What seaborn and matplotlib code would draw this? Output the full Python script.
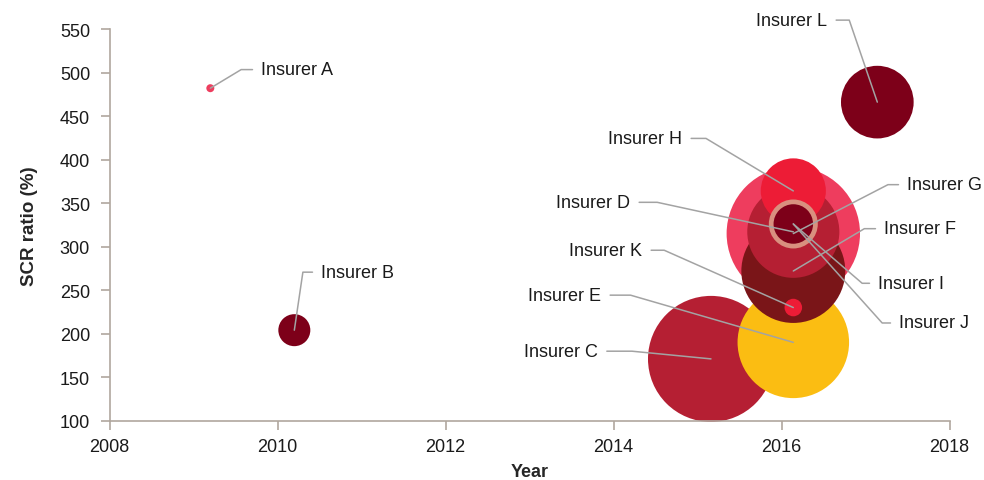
import math
import pandas as pd
import matplotlib
matplotlib.use("Agg")
import matplotlib.pyplot as plt
import seaborn as sns

# ---- data ----
insurers = ["Insurer A", "Insurer B", "Insurer C", "Insurer D", "Insurer E", "Insurer F",
            "Insurer G", "Insurer H", "Insurer I", "Insurer J", "Insurer K", "Insurer L"]
years = [2009.20, 2010.20, 2015.16, 2016.14, 2016.14, 2016.14,
         2016.14, 2016.14, 2016.14, 2016.14, 2016.14, 2017.14]
scr_ratio = [482, 204, 171, 317, 190, 272, 315, 364, 326, 326, 230, 466]
bubble = [1.6, 25.6, 397, 212, 311, 270, 445, 106, 60, 39, 7.7, 132]
colours = ["#ee3d5e", "#7d0019", "#b51f33", "#b51f33", "#fbbd12", "#7a1518",
           "#ee3d5e", "#ed1c36", "#d9907f", "#7d0019", "#ed1c36", "#7d0019"]

df = pd.DataFrame({"insurer": insurers, "year": years, "scr": scr_ratio, "bubble": bubble})
# biggest bubbles first so the small ones sit on top
df = df.sort_values("bubble", ascending=False)
palette = dict(zip(insurers, colours))

# label placement (pixels from bubble centre): text offset, elbow direction, alignment
label_pos = {
    "Insurer A": ((51, 18.6), (32, 19.3), "left"),
    "Insurer B": ((27, 58), (8.7, 59), "left"),
    "Insurer C": ((-113, 7.7), (-92.4, 9), "right"),
    "Insurer D": ((-163, 29.5), (-140.7, 30.5), "right"),
    "Insurer E": ((-192, 47.2), (-169, 49), "right"),
    "Insurer F": ((91, 42.3), (72.7, 43.3), "left"),
    "Insurer G": ((114, 48.9), (96, 49.6), "left"),
    "Insurer H": ((-111, 52.5), (-89, 53.5), "right"),
    "Insurer I": ((85, -59.3), (67.7, -58.3), "left"),
    "Insurer J": ((106, -99), (87.7, -97.7), "left"),
    "Insurer K": ((-151, 57.3), (-130.7, 58), "right"),
    "Insurer L": ((-50, 82), (-28.3, 82.7), "right"),
}

# ---- plot ----
sns.set_style("ticks")
plt.rcParams["font.family"] = ["Liberation Sans", "DejaVu Sans"]

fig = plt.figure(figsize=(9.84, 4.81), dpi=100)
ax = fig.add_axes([0.1113, 0.1233, 0.8537, 0.8143])

sns.scatterplot(data=df, x="year", y="scr", hue="insurer", palette=palette,
                size="bubble", sizes=(0, 9225), size_norm=(0, 445),
                linewidth=0, legend=False, ax=ax)
for coll in ax.collections:
    coll.set_clip_on(False)

for name, x, y in zip(insurers, years, scr_ratio):
    (tx, ty), (ex, ey), ha = label_pos[name]
    ang = math.degrees(math.atan2(ey, ex))
    ax.annotate(name, xy=(x, y), xytext=(tx, ty), textcoords="offset pixels",
                ha=ha, va="center", fontsize=13, color="#1a1a1a",
                arrowprops=dict(arrowstyle="-", color="#a3a3a3", lw=1.1,
                                connectionstyle=f"angle,angleA=0,angleB={ang},rad=0",
                                shrinkA=4, shrinkB=0))

ax.set_xlim(2008, 2018)
ax.set_ylim(100, 550)
ax.set_xticks(range(2008, 2019, 2))
ax.set_yticks(range(100, 551, 50))

spine_col = "#b0a79e"
sns.despine(ax=ax)
for side in ["left", "bottom"]:
    ax.spines[side].set_color(spine_col)
    ax.spines[side].set_linewidth(1.2)
ax.tick_params(axis="both", colors=spine_col, labelcolor="#1a1a1a", labelsize=13,
               length=6.5, width=1.2)
ax.tick_params(axis="y", pad=7.5)
ax.tick_params(axis="x", pad=6)

ax.set_xlabel("Year", fontsize=13, fontweight="bold", labelpad=6)
ax.set_ylabel("SCR ratio (%)", fontsize=13.5, fontweight="bold", labelpad=16)

fig.savefig("out.png", dpi=100)
plt.close(fig)
